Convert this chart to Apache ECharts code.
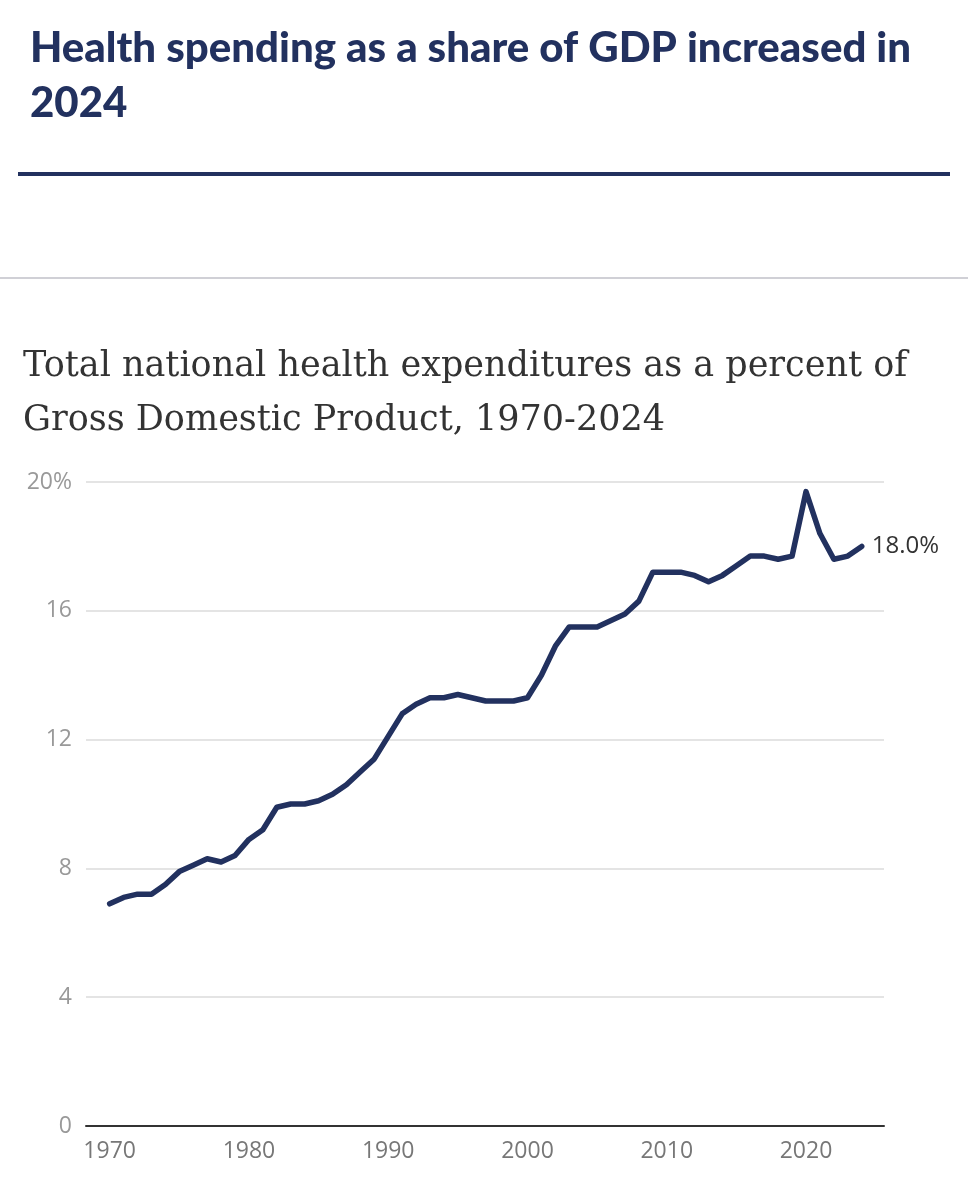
<!DOCTYPE html>
<html lang="en">
<head>
    <meta charset="UTF-8">
    <script src="https://cdn.jsdelivr.net/npm/echarts@6/dist/echarts.min.js"></script>
    <title>Health spending share of GDP</title>
    <style>
        html, body { margin: 0; padding: 0; background: #fff; }
    </style>
</head>
<body>
<div id="main" style="width: 968px;height:1200px;"></div>
<script type="text/javascript">
    // years and values (percent of GDP)
    var years = [1970, 1971, 1972, 1973, 1974, 1975, 1976, 1977, 1978, 1979,
        1980, 1981, 1982, 1983, 1984, 1985, 1986, 1987, 1988, 1989,
        1990, 1991, 1992, 1993, 1994, 1995, 1996, 1997, 1998, 1999,
        2000, 2001, 2002, 2003, 2004, 2005, 2006, 2007, 2008, 2009,
        2010, 2011, 2012, 2013, 2014, 2015, 2016, 2017, 2018, 2019,
        2020, 2021, 2022, 2023, 2024];
    var shareOfGdp = [6.9, 7.1, 7.2, 7.2, 7.5, 7.9, 8.1, 8.3, 8.2, 8.4,
        8.9, 9.2, 9.9, 10.0, 10.0, 10.1, 10.3, 10.6, 11.0, 11.4,
        12.1, 12.8, 13.1, 13.3, 13.3, 13.4, 13.3, 13.2, 13.2, 13.2,
        13.3, 14.0, 14.9, 15.5, 15.5, 15.5, 15.7, 15.9, 16.3, 17.2,
        17.2, 17.2, 17.1, 16.9, 17.1, 17.4, 17.7, 17.7, 17.6, 17.7,
        19.7, 18.4, 17.6, 17.7, 18.0];
    var xTicks = [1970, 1980, 1990, 2000, 2010, 2020];
    var yTicks = [0, 4, 8, 12, 16, 20];

    var navy = '#22315f';
    var points = years.map(function (y, i) { return [y, shareOfGdp[i]]; });

    var myChart = echarts.init(document.getElementById('main'));

    var option = {
        animation: false,
        backgroundColor: '#fff',
        title: [{
            text: 'Health spending as a share of GDP increased in\n2024',
            left: 25,
            top: 16,
            textStyle: {
                fontFamily: 'Lato',
                fontWeight: 900,
                fontSize: 42,
                lineHeight: 55,
                color: navy
            }
        }, {
            text: 'Total national health expenditures as a percent of\nGross Domestic Product, 1970-2024',
            left: 18,
            top: 335,
            textStyle: {
                fontFamily: 'DejaVu Serif',
                fontWeight: 'normal',
                fontSize: 35,
                lineHeight: 54,
                color: '#333'
            }
        }],
        graphic: [{
            type: 'rect',
            shape: { x: 18, y: 172, width: 932, height: 4 },
            style: { fill: navy }
        }, {
            type: 'rect',
            shape: { x: 0, y: 277, width: 968, height: 2 },
            style: { fill: '#d0d0d6' }
        }],
        grid: {
            left: 86,
            right: 84,
            top: 482,
            bottom: 74
        },
        xAxis: {
            type: 'value',
            min: 1968.3,
            max: 2025.6,
            axisLine: { show: true, lineStyle: { color: '#333', width: 2 } },
            axisTick: { show: false },
            splitLine: { show: false },
            axisLabel: {
                customValues: xTicks,
                color: '#777',
                fontFamily: 'Open Sans',
                fontSize: 23,
                margin: 14,
                formatter: function (v) { return String(v); }
            }
        },
        yAxis: {
            type: 'value',
            min: 0,
            max: 20,
            interval: 4,
            axisLine: { show: false },
            axisTick: { show: false },
            splitLine: { lineStyle: { color: '#e4e4e4', width: 2 } },
            axisLabel: {
                customValues: yTicks,
                color: '#999',
                fontFamily: 'Open Sans',
                fontSize: 23,
                margin: 14,
                formatter: function (v) { return v === 20 ? '20%' : String(v); }
            }
        },
        series: [{
            type: 'line',
            data: points,
            symbol: 'none',
            lineStyle: { color: navy, width: 5.5, join: 'round', cap: 'round' },
            endLabel: {
                show: true,
                formatter: function (p) { return p.value[1].toFixed(1) + '%'; },
                color: '#333',
                fontFamily: 'Open Sans',
                fontSize: 24,
                distance: 10
            }
        }]
    };

    myChart.setOption(option);
</script>
</body>
</html>
